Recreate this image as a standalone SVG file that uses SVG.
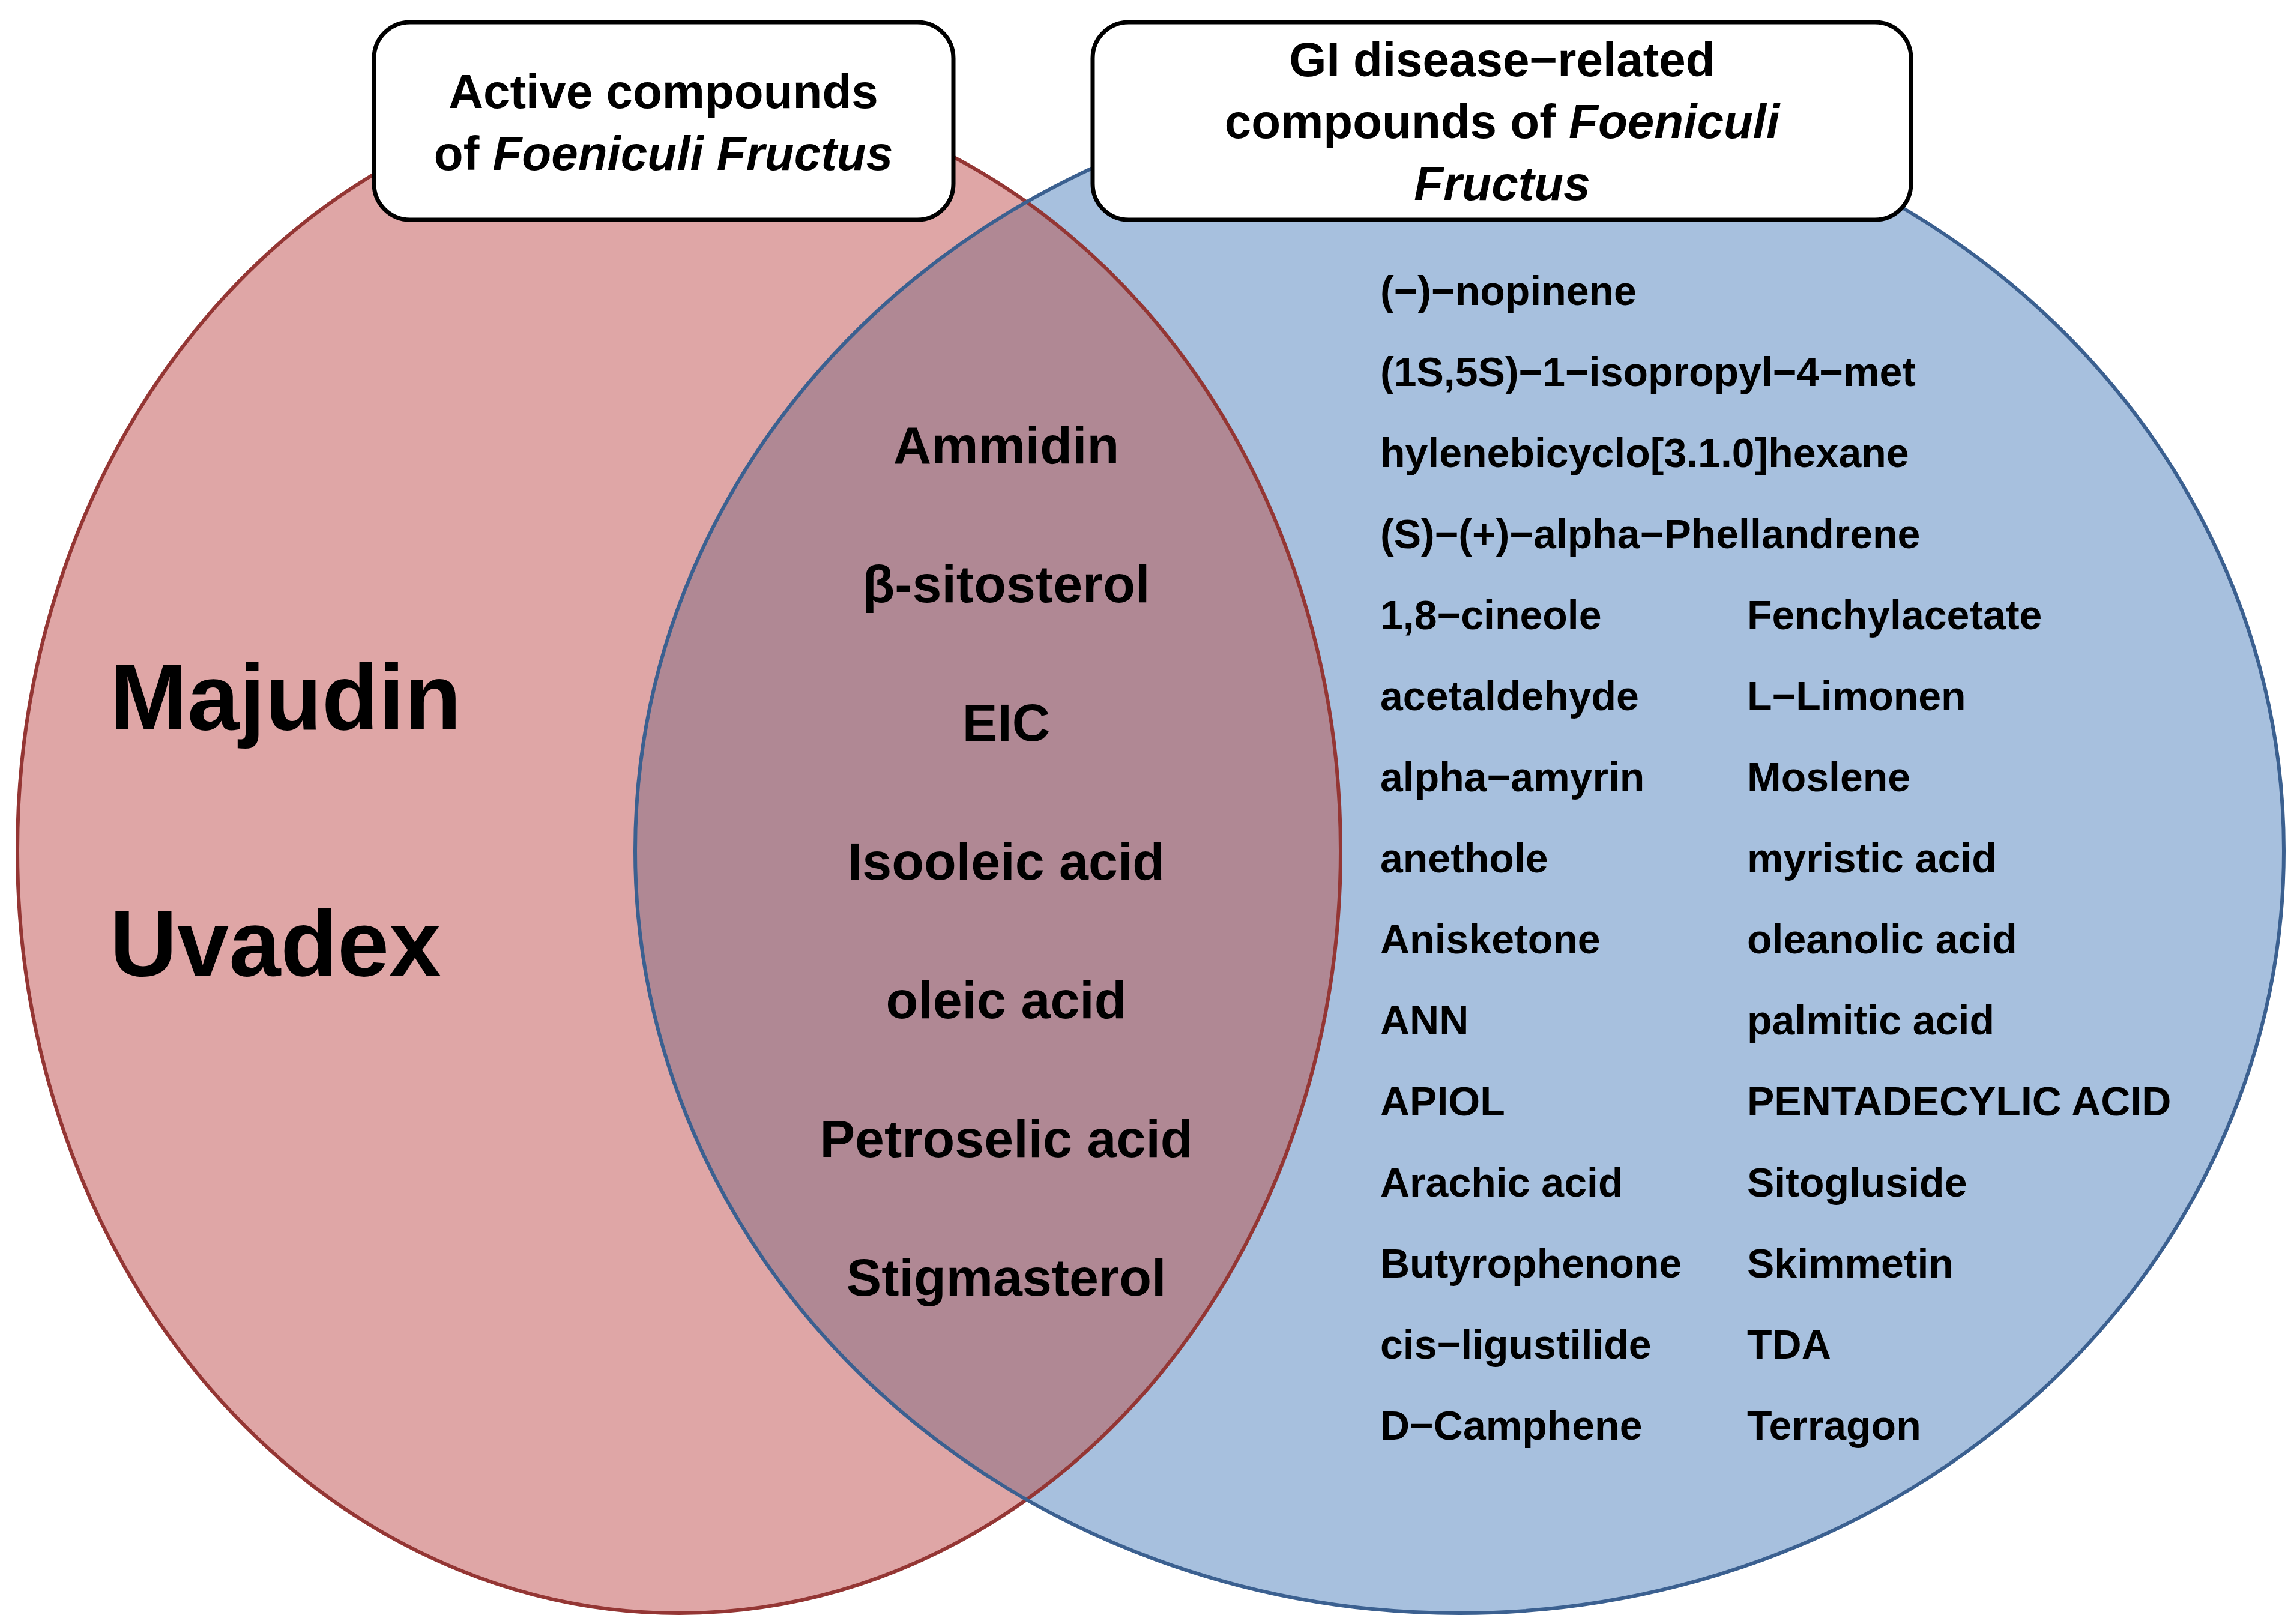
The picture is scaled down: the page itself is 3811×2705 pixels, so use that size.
<svg xmlns="http://www.w3.org/2000/svg" width="3811" height="2705" viewBox="0 0 3811 2705">
<style>
text{font-family:"Liberation Sans",Arial,sans-serif;font-weight:bold;fill:#000}
.m{font-size:88px;text-anchor:middle}
.r{font-size:68px}
.b{font-size:80px;text-anchor:middle}
.big{font-size:155px}
</style>
<defs>
<clipPath id="cl"><ellipse cx="1131" cy="1417" rx="1102" ry="1270"/></clipPath>
</defs>
<rect width="3811" height="2705" fill="#fff"/>
<g id="sets">
<ellipse cx="1131" cy="1417" rx="1102" ry="1270" fill="#dfa6a6"/>
<ellipse cx="2431" cy="1417" rx="1373" ry="1270" fill="#a7c0de"/>
<ellipse cx="2431" cy="1417" rx="1373" ry="1270" fill="#b08894" clip-path="url(#cl)"/>
<ellipse cx="1131" cy="1417" rx="1102" ry="1270" fill="none" stroke="#943634" stroke-width="6"/>
<ellipse cx="2431" cy="1417" rx="1373" ry="1270" fill="none" stroke="#3b6090" stroke-width="6"/>
</g>
<g id="box-left">
<rect x="623" y="37" width="965" height="329" rx="60" fill="#fff" stroke="#000" stroke-width="7"/>
<text class="b" x="1105" y="180">Active compounds</text>
<text class="b" x="1105" y="283">of <tspan font-style="italic">Foeniculi Fructus</tspan></text>
</g>
<g id="box-right">
<rect x="1820" y="37" width="1363" height="329" rx="60" fill="#fff" stroke="#000" stroke-width="7"/>
<text class="b" x="2502" y="127">GI disease−related</text>
<text class="b" x="2502" y="230">compounds of <tspan font-style="italic">Foeniculi</tspan></text>
<text class="b" x="2502" y="333" font-style="italic">Fructus</text>
</g>
<g id="left-only">
<text class="big" x="183" y="1215">Majudin</text>
<text class="big" x="183" y="1625">Uvadex</text>
</g>
<g id="overlap">
<text class="m" x="1676" y="772">Ammidin</text>
<text class="m" x="1676" y="1003">β-sitosterol</text>
<text class="m" x="1676" y="1234">EIC</text>
<text class="m" x="1676" y="1465">Isooleic acid</text>
<text class="m" x="1676" y="1696">oleic acid</text>
<text class="m" x="1676" y="1927">Petroselic acid</text>
<text class="m" x="1676" y="2158">Stigmasterol</text>
</g>
<g id="right-only" class="r">
<text class="r" x="2299" y="508">(−)−nopinene</text>
<text class="r" x="2299" y="643">(1S,5S)−1−isopropyl−4−met</text>
<text class="r" x="2299" y="778">hylenebicyclo[3.1.0]hexane</text>
<text class="r" x="2299" y="913">(S)−(+)−alpha−Phellandrene</text>
<text class="r" x="2299" y="1048">1,8−cineole</text>
<text class="r" x="2299" y="1183">acetaldehyde</text>
<text class="r" x="2299" y="1318">alpha−amyrin</text>
<text class="r" x="2299" y="1453">anethole</text>
<text class="r" x="2299" y="1588">Anisketone</text>
<text class="r" x="2299" y="1723">ANN</text>
<text class="r" x="2299" y="1858">APIOL</text>
<text class="r" x="2299" y="1993">Arachic acid</text>
<text class="r" x="2299" y="2128">Butyrophenone</text>
<text class="r" x="2299" y="2263">cis−ligustilide</text>
<text class="r" x="2299" y="2398">D−Camphene</text>
<text class="r" x="2910" y="1048">Fenchylacetate</text>
<text class="r" x="2910" y="1183">L−Limonen</text>
<text class="r" x="2910" y="1318">Moslene</text>
<text class="r" x="2910" y="1453">myristic acid</text>
<text class="r" x="2910" y="1588">oleanolic acid</text>
<text class="r" x="2910" y="1723">palmitic acid</text>
<text class="r" x="2910" y="1858">PENTADECYLIC ACID</text>
<text class="r" x="2910" y="1993">Sitogluside</text>
<text class="r" x="2910" y="2128">Skimmetin</text>
<text class="r" x="2910" y="2263">TDA</text>
<text class="r" x="2910" y="2398">Terragon</text>
</g>
<g id="connectors"/>
</svg>
